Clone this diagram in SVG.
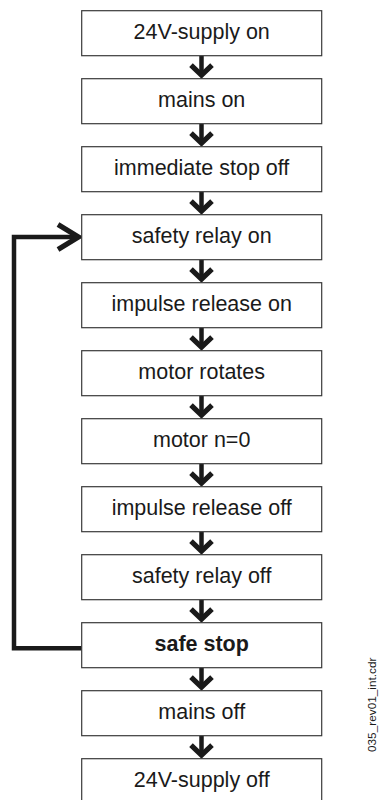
<svg xmlns="http://www.w3.org/2000/svg" width="383" height="800" viewBox="0 0 383 800">
<defs>
<style>
.box{fill:#fff;stroke:#3a3a3a;stroke-width:1.2}
.lbl{font-family:"Liberation Sans",Arial,sans-serif;font-size:21.5px;fill:#1a1a1a;text-anchor:middle}
.bold{font-weight:bold}
.con{fill:none;stroke:#1a1a1a;stroke-width:4.5;stroke-linejoin:miter;stroke-linecap:butt}
.head{fill:none;stroke:#1a1a1a;stroke-width:5.2;stroke-linejoin:miter;stroke-linecap:butt}
.wm{font-family:"Liberation Sans",Arial,sans-serif;font-size:11.8px;fill:#1a1a1a}
</style>
<g id="arrowDown">
<path class="con" d="M201.5,0 V18"/>
<path class="head" d="M191,9.5 L201.5,19.5 L212,9.5"/>
</g>
</defs>
<rect width="383" height="800" fill="#fff"/>
<g id="connectors">
<use href="#arrowDown" y="55.7"/>
<use href="#arrowDown" y="123.7"/>
<use href="#arrowDown" y="191.7"/>
<use href="#arrowDown" y="259.7"/>
<use href="#arrowDown" y="327.7"/>
<use href="#arrowDown" y="395.7"/>
<use href="#arrowDown" y="463.7"/>
<use href="#arrowDown" y="531.7"/>
<use href="#arrowDown" y="599.7"/>
<use href="#arrowDown" y="667.7"/>
<use href="#arrowDown" y="735.7"/>
<path class="con" d="M81.7,648.3 H14 V237 H78"/>
<path class="head" d="M58,224.5 L78.5,237 L58,249.5"/>
</g>
<g id="n1"><rect class="box" x="81.7" y="10.7" width="240" height="45"/><text class="lbl" x="201.7" y="39.3">24V-supply on</text></g>
<g id="n2"><rect class="box" x="81.7" y="78.7" width="240" height="45"/><text class="lbl" x="201.7" y="107.3">mains on</text></g>
<g id="n3"><rect class="box" x="81.7" y="146.7" width="240" height="45"/><text class="lbl" x="201.7" y="175.3">immediate stop off</text></g>
<g id="n4"><rect class="box" x="81.7" y="214.7" width="240" height="45"/><text class="lbl" x="201.7" y="243.3">safety relay on</text></g>
<g id="n5"><rect class="box" x="81.7" y="282.7" width="240" height="45"/><text class="lbl" x="201.7" y="311.3">impulse release on</text></g>
<g id="n6"><rect class="box" x="81.7" y="350.7" width="240" height="45"/><text class="lbl" x="201.7" y="379.3">motor rotates</text></g>
<g id="n7"><rect class="box" x="81.7" y="418.7" width="240" height="45"/><text class="lbl" x="201.7" y="447.3">motor n=0</text></g>
<g id="n8"><rect class="box" x="81.7" y="486.7" width="240" height="45"/><text class="lbl" x="201.7" y="515.3">impulse release off</text></g>
<g id="n9"><rect class="box" x="81.7" y="554.7" width="240" height="45"/><text class="lbl" x="201.7" y="583.3">safety relay off</text></g>
<g id="n10"><rect class="box" x="81.7" y="622.7" width="240" height="45"/><text class="lbl bold" x="201.7" y="651.3">safe stop</text></g>
<g id="n11"><rect class="box" x="81.7" y="690.7" width="240" height="45"/><text class="lbl" x="201.7" y="719.3">mains off</text></g>
<g id="n12"><rect class="box" x="81.7" y="758.7" width="240" height="45"/><text class="lbl" x="201.7" y="787.3">24V-supply off</text></g>
<text class="wm" transform="translate(376,752) rotate(-90)">035_rev01_int.cdr</text>
</svg>
